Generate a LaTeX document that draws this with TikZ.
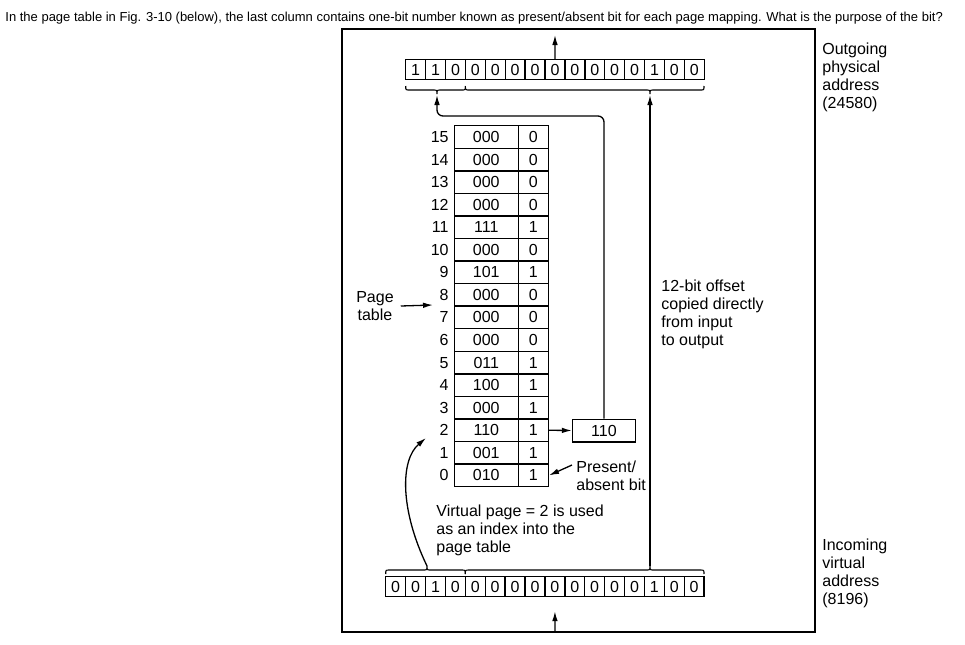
\documentclass[tikz,border=0pt]{standalone}
\usepackage{fontspec}
\setmainfont{Liberation Sans}
\usetikzlibrary{arrows.meta,calc}

\begin{document}
\begin{tikzpicture}[x=0.5pt,y=-0.5pt,
  every node/.style={font=\fontsize{8}{9}\selectfont},
  cell/.style={draw, line width=0.7pt, minimum width=9.95pt, minimum height=10pt, inner sep=0pt},
  entry/.style={draw, line width=0.7pt, minimum height=11.28pt, inner sep=0pt},
  arrow/.style={-{Latex[length=5pt,width=2.8pt]}, line width=0.65pt},
  brace/.style={line width=0.55pt},
  note/.style={align=left, anchor=west, inner sep=2pt}
]
\useasboundingbox (0,0) rectangle (965,644);

% Question above the figure
\node[anchor=west, inner sep=0pt, font=\fontsize{6.5}{7.5}\selectfont] (question) at (5,18)
  {In the page table in Fig. 3-10 (below), the last column contains one-bit number known as present/absent bit for each page mapping. What is the purpose of the bit?};

% Frame of the figure
\draw[line width=1pt] (342,28.5) rectangle (815,632);

% Outgoing physical address
\foreach \b [count=\i from 0] in {1,1,0,0,0,0,0,0,0,0,0,0,1,0,0}
  \node[cell] (out\i) at (415.65+19.9*\i,69.5) {\b};

% Incoming virtual address
\foreach \b [count=\i from 0] in {0,0,1,0,0,0,0,0,0,0,0,0,0,1,0,0}
  \node[cell] (in\i) at (395.65+19.9*\i,586.5) {\b};

% Page table
\foreach \r/\f/\p in {15/000/0, 14/000/0, 13/000/0, 12/000/0, 11/111/1, 10/000/0,
    9/101/1, 8/000/0, 7/000/0, 6/000/0, 5/011/1, 4/100/1, 3/000/1, 2/110/1, 1/001/1, 0/010/1}{
  \node[entry, minimum width=32pt] (pf\r) at (486.3,136.98+22.56*15-22.56*\r) {\f};
  \node[entry, minimum width=15pt] (pb\r) at (533.3,136.98+22.56*15-22.56*\r) {\p};
  \node[anchor=east, inner sep=0pt] (pn\r) at (449,136.98+22.56*15-22.56*\r) {\r};
}

\node[draw, line width=0.7pt, minimum width=31.5pt, minimum height=11.3pt, inner sep=0pt] (framenum) at (604,430.5) {110};

% Braces over the address fields
\foreach \xa/\xt/\xb/\ya/\yb/\yc in {405.7/437/465.4/86/90/94, 465.4/650/704/86/90/94,
    385.7/427/465.3/574/570/566, 465.3/650/704/574/570/566}
  \draw[brace] (\xa,\ya) .. controls (\xa,\yb) .. (\xa+4,\yb) -- (\xt-4,\yb)
    .. controls (\xt,\yb) .. (\xt,\yc) .. controls (\xt,\yb) .. (\xt+4,\yb)
    -- (\xb-4,\yb) .. controls (\xb,\yb) .. (\xb,\ya);

\coordinate (ptip) at (437,95);
\coordinate (otip) at (650,95);
\coordinate (vtip) at (427,566);
\coordinate (btip) at (650,566);
\coordinate (turn) at (437,116);
\coordinate (outend) at (555,35);
\coordinate (instart) at (555,632);
\coordinate (idxend) at (426,438);
\coordinate (ptend) at (433,305);

% Labels
\node[align=center] (ptlab) at (375,306) {Page\\table};
\node[note] (pab) at (572,476) {Present/\\absent bit};
\node[note] (vptext) at (432,530) {Virtual page = 2 is used\\as an index into the\\page table};
\node[note] (offtext) at (657,314) {12-bit offset\\copied directly\\from input\\to output};
\node[note] (outtext) at (818,77) {Outgoing\\physical\\address\\(24580)};
\node[note] (intext) at (818,573) {Incoming\\virtual\\address\\(8196)};

% Connectors
\draw[arrow] (out7.north) -- (outend);
\draw[arrow, shorten >=7pt] (instart) -- (in8.south);
\draw[arrow] (pb2.east) -- (framenum.west);
\draw[arrow, rounded corners=3pt] (framenum.north) |- (turn) -- (ptip);
\draw[arrow] (btip) -- (otip);
\draw[arrow] (vtip) .. controls (400,510) and (400,460) .. (idxend);
\draw[arrow] (ptlab.east) -- (ptend);
\draw[arrow] ($(pab.west)+(0,-11)$) -- (pb0.east);

\end{tikzpicture}
\end{document}
